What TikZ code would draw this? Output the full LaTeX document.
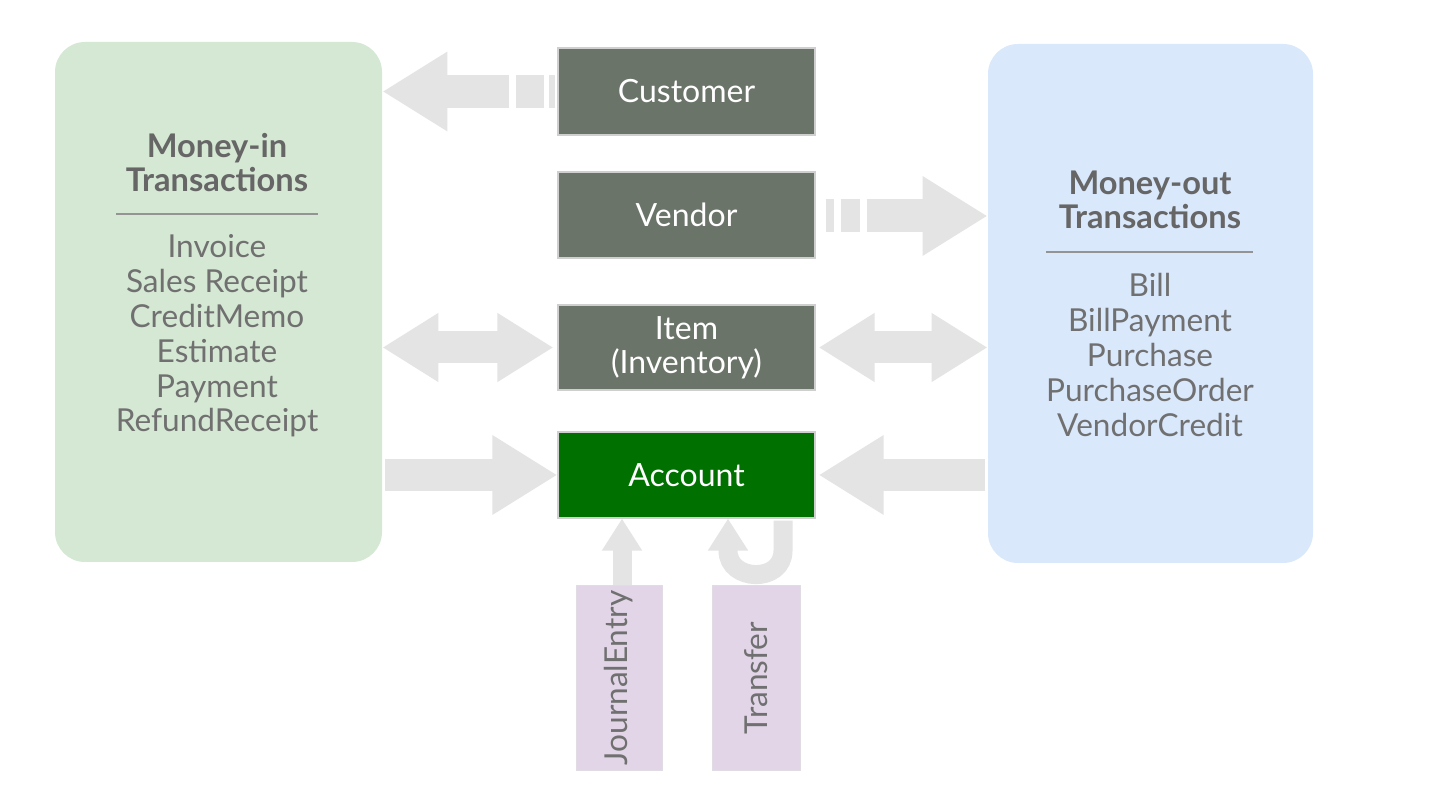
\documentclass[tikz,border=0pt]{standalone}
\usepackage{fontspec}
\setmainfont{Lato}
\usetikzlibrary{arrows.meta,calc}
\definecolor{ingreen}{HTML}{D5E8D4}
\definecolor{outblue}{HTML}{DAE8FC}
\definecolor{entgray}{HTML}{6B7469}
\definecolor{acctgreen}{HTML}{007000}
\definecolor{lilac}{HTML}{E1D5E7}
\definecolor{arrowgray}{HTML}{E4E4E4}
\definecolor{txtgray}{HTML}{707070}
\definecolor{titlegray}{HTML}{666666}
\definecolor{edgegray}{HTML}{CFCFCF}
\begin{document}
\begin{tikzpicture}[x=0.5pt,y=-0.5pt,
  panel/.style={rounded corners=15pt, inner sep=0pt},
  entity/.style={draw=edgegray, line width=0.6pt, fill=entgray, text=white,
    font=\fontsize{16}{17}\selectfont, minimum width=128.5pt, align=center, inner sep=0pt},
  sidebox/.style={draw=lilac!80!gray!60, line width=0.5pt, fill=lilac, minimum width=43pt, minimum height=92pt, inner sep=0pt},
  listtxt/.style={text=txtgray, font=\fontsize{15.8}{17.4}\selectfont, align=center, inner sep=0pt},
  titletxt/.style={text=titlegray, font=\bfseries\fontsize{16.3}{17}\selectfont, align=center, inner sep=0pt},
  fat/.style={draw=arrowgray, line width=16.5pt},
  mid/.style={draw=arrowgray, line width=16pt},
  thin/.style={draw=arrowgray, line width=9.5pt},
  bigtip/.tip={Triangle[length=32.5pt,width=37.5pt]},
  midtip/.tip={Triangle[length=28pt,width=32.5pt]},
  smalltip/.tip={Triangle[length=16pt,width=19pt]}
]
\useasboundingbox[fill=white] (0,0) rectangle (1440,806);

% panels
\node[panel, fill=ingreen, minimum width=163.5pt, minimum height=260pt] (left) at (218.5,302) {};
\node[panel, fill=outblue, minimum width=162.5pt, minimum height=259.5pt] (right) at (1150.5,303.5) {};

% panel texts
\node[titletxt] (intitle) at (217,163) {Money-in\\Transactions};
\draw[titlegray!70, line width=0.7pt] (116,214) -- (318,214);
\node[listtxt] (inlist) at (217,336) {Invoice\\Sales Receipt\\CreditMemo\\Estimate\\Payment\\RefundReceipt};

\node[titletxt] (outtitle) at (1150,200) {Money-out\\Transactions};
\draw[titlegray!70, line width=0.7pt] (1046,252) -- (1253,252);
\node[listtxt] (outlist) at (1150,355) {Bill\\BillPayment\\Purchase\\PurchaseOrder\\VendorCredit};

% entities
\node[entity, minimum height=43.5pt] (cust) at (686.5,91.5) {Customer};
\node[entity, minimum height=43pt] (vend) at (686.5,215) {Vendor};
\node[entity, minimum height=42.5pt] (item) at (686.5,347.5) {Item\\(Inventory)};
\node[entity, minimum height=43pt, fill=acctgreen] (acct) at (686.5,475) {Account};

\node[sidebox] (je) at (619,678) {};
\node[sidebox, minimum width=44pt] (tr) at (756,678) {};
\node[listtxt, rotate=90] at (je) {JournalEntry};
\node[listtxt, rotate=90] at (tr) {Transfer};

% customer -> money-in
\coordinate (c1) at ($(cust.west)+(-48,0)$);
\draw[fat] ($(cust.west)+(-2,0)$) -- ++(-6,0);
\draw[fat] ($(cust.west)+(-13,0)$) -- ++(-28,0);
\draw[fat, -bigtip] (c1) -- (left.east |- c1);

% vendor -> money-out
\coordinate (v1) at ($(vend.east)+(51,1)$);
\draw[fat] ($(vend.east)+(10,1)$) -- ++(8,0);
\draw[fat] ($(vend.east)+(25,1)$) -- ++(19,0);
\draw[fat, -bigtip] (v1) -- (right.west |- v1);

% item double arrows
\draw[mid, midtip-midtip] (left.east |- item) -- ($(item.west)+(-4,0)$);
\draw[mid, midtip-midtip] ($(item.east)+(3,0)$) -- (right.west |- item);

% account arrows
\draw[mid, -bigtip] ($(left.east |- acct)+(3,0)$) -- (acct.west);
\draw[mid, -bigtip] ($(right.west |- acct)+(-3,0)$) -- ($(acct.east)+(3,0)$);

% journal entry
\coordinate (j1) at ($(je.north)+(3,0)$);
\draw[thin, -smalltip] (j1) -- (acct.south -| j1);

% transfer loop
\coordinate (t1) at ($(acct.south)+(96.5,2)$);
\coordinate (t2) at ($(acct.south)+(41.5,0)$);
\draw[thin, -smalltip] (t1) -- ++(0,30) .. controls ++(0,33) and ($(t2)+(0,63)$) .. ($(t2)+(0,32)$) -- (t2);
\end{tikzpicture}
\end{document}
